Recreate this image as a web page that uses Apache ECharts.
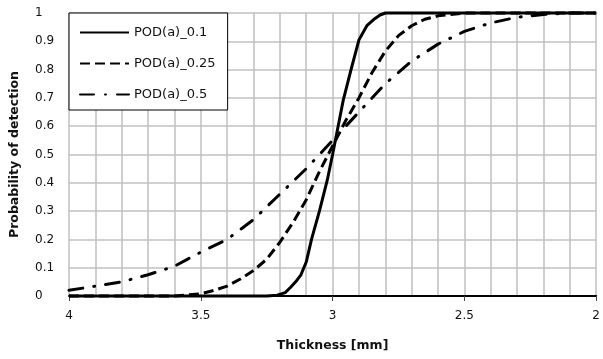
<!DOCTYPE html>
<html>
<head>
<meta charset="utf-8">
<script src="https://cdn.jsdelivr.net/npm/echarts@6/dist/echarts.min.js"></script>
<style>
html, body { margin: 0; padding: 0; background: #fff; }
#chart { width: 603px; height: 359px; }
</style>
</head>
<body>
<div id="chart"></div>
<script>
var seriesNames = ['POD(a)_0.1', 'POD(a)_0.25', 'POD(a)_0.5'];

// thickness [mm] and probability of detection
var pod01X = [4, 3.5, 3.25, 3.21, 3.18, 3.16, 3.14, 3.12, 3.1, 3.08, 3.05, 3.02, 3.0, 2.96, 2.93, 2.9, 2.87, 2.84, 2.82, 2.8, 2.5, 2];
var pod01Y = [0, 0, 0, 0.003, 0.012, 0.03, 0.05, 0.075, 0.12, 0.2, 0.3, 0.41, 0.5, 0.69, 0.8, 0.905, 0.955, 0.98, 0.993, 1, 1, 1];

var pod025X = [4, 3.6, 3.5, 3.45, 3.4, 3.35, 3.3, 3.25, 3.2, 3.15, 3.1, 3.05, 3.0, 2.95, 2.9, 2.85, 2.8, 2.75, 2.7, 2.65, 2.6, 2.5, 2];
var pod025Y = [0, 0, 0.008, 0.02, 0.035, 0.06, 0.09, 0.13, 0.19, 0.26, 0.34, 0.44, 0.53, 0.62, 0.7, 0.79, 0.865, 0.92, 0.955, 0.978, 0.99, 1, 1];

var pod05X = [4, 3.9, 3.8, 3.7, 3.6, 3.5, 3.4, 3.3, 3.2, 3.1, 3.0, 2.9, 2.8, 2.7, 2.6, 2.5, 2.4, 2.3, 2.2, 2.1, 2];
var pod05Y = [0.02, 0.035, 0.05, 0.075, 0.105, 0.155, 0.2, 0.27, 0.36, 0.45, 0.55, 0.65, 0.75, 0.83, 0.89, 0.935, 0.965, 0.985, 0.995, 1, 1];

var yTicks = [0, 0.1, 0.2, 0.3, 0.4, 0.5, 0.6, 0.7, 0.8, 0.9, 1];

function pairs(xs, ys) {
	var out = [];
	for (var i = 0; i < xs.length; i++) {
		out.push([xs[i], ys[i]]);
	}
	return out;
}

var chart = echarts.init(document.getElementById('chart'));
var option = {
	animation : false,
	backgroundColor : '#fff',
	grid : {
		left : 69,
		right : 5,
		top : 13,
		bottom : 63
	},
	legend : {
		orient : 'vertical',
		left : 69,
		top : 13,
		padding : [ 13, 12, 9, 10 ],
		itemWidth : 49,
		itemHeight : 14,
		itemGap : 18,
		borderColor : '#000',
		borderWidth : 1,
		backgroundColor : '#fff',
		itemStyle : {
			opacity : 0
		},
		textStyle : {
			fontFamily : 'DejaVu Sans',
			fontSize : 13,
			color : '#111'
		},
		data : seriesNames
	},
	xAxis : {
		type : 'value',
		inverse : true,
		min : 2,
		max : 4,
		interval : 0.5,
		name : 'Thickness [mm]',
		nameLocation : 'middle',
		nameGap : 43,
		nameTextStyle : {
			fontFamily : 'DejaVu Sans',
			fontWeight : 'bold',
			fontSize : 12.5,
			color : '#111'
		},
		axisLine : {
			show : true,
			onZero : false,
			lineStyle : {
				color : '#000',
				width : 2
			}
		},
		axisTick : {
			show : true,
			length : 5,
			lineStyle : {
				color : '#444'
			}
		},
		axisLabel : {
			margin : 14,
			fontFamily : 'DejaVu Sans',
			fontSize : 12,
			color : '#111'
		},
		splitLine : {
			show : true,
			lineStyle : {
				color : '#c0c0c0',
				width : 1.5
			}
		},
		minorTick : {
			show : false,
			splitNumber : 5
		},
		minorSplitLine : {
			show : true,
			lineStyle : {
				color : '#c0c0c0',
				width : 1.5
			}
		}
	},
	yAxis : {
		type : 'value',
		min : 0,
		max : 1,
		interval : 0.1,
		name : 'Probability of detection',
		nameLocation : 'middle',
		nameGap : 48,
		nameTextStyle : {
			fontFamily : 'DejaVu Sans',
			fontWeight : 'bold',
			fontSize : 12.5,
			color : '#111'
		},
		axisLine : {
			show : false
		},
		axisTick : {
			show : false
		},
		axisLabel : {
			align : 'left',
			margin : 34,
			fontFamily : 'DejaVu Sans',
			fontSize : 12,
			color : '#111',
			formatter : function(v) {
				for (var i = 0; i < yTicks.length; i++) {
					if (Math.abs(yTicks[i] - v) < 1e-9) {
						return String(yTicks[i]);
					}
				}
				return '';
			}
		},
		splitLine : {
			show : true,
			lineStyle : {
				color : '#c0c0c0',
				width : 1.5
			}
		}
	},
	series : [ {
		name : seriesNames[0],
		type : 'line',
		symbol : 'none',
		clip : false,
		z : 5,
		color : '#000',
		lineStyle : {
			color : '#000',
			width : 3,
			type : 'solid'
		},
		data : pairs(pod01X, pod01Y)
	}, {
		name : seriesNames[1],
		type : 'line',
		symbol : 'none',
		clip : false,
		z : 4,
		color : '#000',
		lineStyle : {
			color : '#000',
			width : 3,
			type : [ 10, 5 ],
			cap : 'butt'
		},
		data : pairs(pod025X, pod025Y)
	}, {
		name : seriesNames[2],
		type : 'line',
		symbol : 'none',
		clip : false,
		z : 3,
		color : '#000',
		lineStyle : {
			color : '#000',
			width : 3,
			type : [ 14, 11, 1, 11 ],
			cap : 'round'
		},
		data : pairs(pod05X, pod05Y)
	} ]
};
chart.setOption(option);
window.onresize = chart.resize;
</script>
</body>
</html>
